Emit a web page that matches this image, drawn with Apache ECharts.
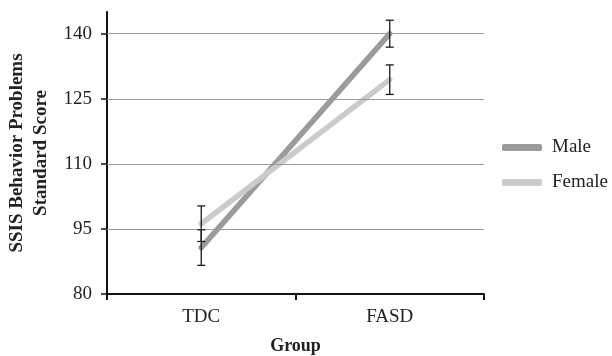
<!DOCTYPE html>
<html>
<head>
<meta charset="utf-8">
<script src="https://cdn.jsdelivr.net/npm/echarts@6/dist/echarts.min.js"></script>
<style>html,body{margin:0;padding:0;background:#fff;}#chart{width:612px;height:356px;}</style>
</head>
<body>
<div id="chart"></div>
<script>
const categories = ['TDC', 'FASD'];
const maleMean = [90.7, 140.0];
const maleErr = [4.1, 3.1];
const femaleMean = [96.2, 129.4];
const femaleErr = [4.1, 3.4];
const yTicks = [80, 95, 110, 125, 140];

const FONT = '"Liberation Serif", "Times New Roman", serif';
const chart = echarts.init(document.getElementById('chart'), null, {renderer: 'canvas'});

function errData(means, errs) {
  return means.map((m, i) => [i, m - errs[i], m + errs[i]]);
}
function errSeries(name, means, errs) {
  return {
    type: 'custom',
    name: name + ' err',
    silent: true,
    z: 5,
    data: errData(means, errs),
    renderItem: function (params, api) {
      const x = api.value(0);
      const lo = api.coord([x, api.value(1)]);
      const hi = api.coord([x, api.value(2)]);
      const w = 4;
      const style = {stroke: '#1a1a1a', lineWidth: 1.3};
      return {
        type: 'group',
        children: [
          {type: 'line', shape: {x1: lo[0], y1: lo[1], x2: hi[0], y2: hi[1]}, style: style},
          {type: 'line', shape: {x1: lo[0] - w, y1: lo[1], x2: lo[0] + w, y2: lo[1]}, style: style},
          {type: 'line', shape: {x1: hi[0] - w, y1: hi[1], x2: hi[0] + w, y2: hi[1]}, style: style}
        ]
      };
    }
  };
}

const option = {
  backgroundColor: '#fff',
  animation: false,
  textStyle: {fontFamily: FONT},
  grid: {left: 107, right: 128, top: 12, bottom: 62, containLabel: false, outerBoundsMode: 'none'},
  legend: {
    orient: 'vertical',
    left: 497,
    top: 133,
    itemWidth: 40,
    itemHeight: 7,
    itemGap: 16,
    icon: 'roundRect',
    data: ['Male', 'Female'],
    textStyle: {fontFamily: FONT, fontSize: 19, color: '#222', padding: [0, 0, 0, 5]}
  },
  xAxis: {
    type: 'category',
    data: categories,
    boundaryGap: true,
    name: 'Group',
    nameLocation: 'middle',
    nameGap: 43,
    nameTextStyle: {fontFamily: FONT, fontSize: 18, fontWeight: 'bold', color: '#222'},
    axisLine: {lineStyle: {color: '#111', width: 2}},
    axisTick: {show: true, length: 6, lineStyle: {color: '#111', width: 2}},
    axisLabel: {fontFamily: FONT, fontSize: 19, color: '#222', margin: 14},
    splitLine: {show: false}
  },
  yAxis: {
    type: 'value',
    min: 80,
    max: 145,
    interval: 15,
    name: 'SSIS Behavior Problems\nStandard Score',
    nameLocation: 'middle',
    nameGap: 53,
    nameTextStyle: {fontFamily: FONT, fontSize: 19, fontWeight: 'bold', color: '#222', lineHeight: 24},
    axisLine: {show: true, lineStyle: {color: '#111', width: 2}},
    axisTick: {show: true, length: 6, customValues: yTicks, lineStyle: {color: '#111', width: 1.5}},
    axisLabel: {fontFamily: FONT, fontSize: 19, color: '#222', margin: 15, customValues: yTicks},
    splitLine: {show: false}
  },
  series: [
    {
      name: 'Male',
      type: 'line',
      data: maleMean,
      symbol: 'none',
      color: '#9b9b9b',
      lineStyle: {width: 5.5, color: '#9b9b9b', cap: 'round'},
      z: 3,
      markLine: {
        silent: true,
        symbol: 'none',
        label: {show: false},
        lineStyle: {color: '#9a9a9a', width: 1, type: 'solid'},
        data: yTicks.slice(1).map(v => ({yAxis: v}))
      }
    },
    {
      name: 'Female',
      type: 'line',
      data: femaleMean,
      symbol: 'none',
      color: '#cbcbcb',
      lineStyle: {width: 5.5, color: '#cbcbcb', cap: 'round'},
      z: 4
    },
    errSeries('Male', maleMean, maleErr),
    errSeries('Female', femaleMean, femaleErr)
  ]
};
chart.setOption(option);
</script>
</body>
</html>
